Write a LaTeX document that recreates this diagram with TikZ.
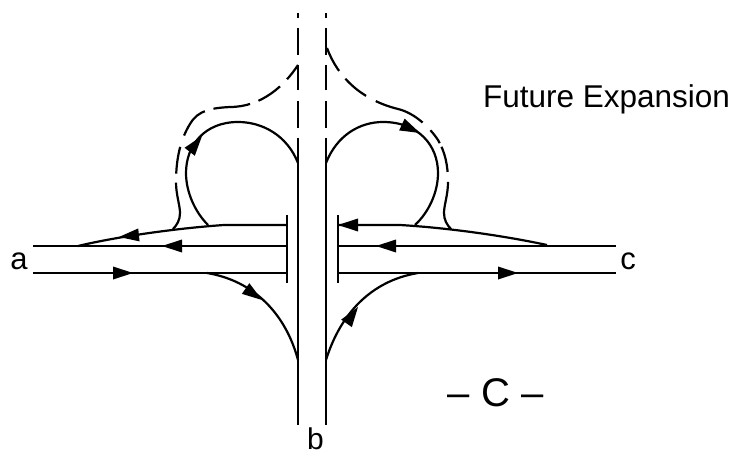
\documentclass[tikz,border=0pt]{standalone}
\usepackage{fontspec}
\setmainfont{Liberation Sans}
\newcommand{\headat}[3]{\fill[black,shift={(#1,#2)},rotate=#3] (0,0) -- (-20,-6.5) -- (-20,6.5) -- cycle;}
\tikzset{
  road/.style={line width=2.2pt,black,line join=round},
  lab/.style={inner sep=0pt,anchor=base},
  mainbroken/.style={road,dash pattern=on 5 off 10 on 27 off 10 on 25 off 11 on 27 off 10 on 300 off 0},
}
\begin{document}
\begin{tikzpicture}[x=1pt,y=-1pt]
\useasboundingbox (0,0) rectangle (735,454);
% main road b
\draw[mainbroken] (298,13) -- (298,425);
\draw[mainbroken] (326,13) -- (326,425);
% crossbars
\draw[road] (287,215) -- (287,283);
\draw[road] (338,215) -- (338,283);
% arm a
\draw[road] (33,246) -- (287,246);
\draw[road] (33,273) -- (287,273);
\draw[road] (287,225) -- (224,225) .. controls (180,228) and (120,236) .. (78,246);
\draw[road] (207,273) .. controls (255,281) and (286,315) .. (298,360);
% arm c
\draw[road] (338,246) -- (616,246);
\draw[road] (338,273) -- (616,273);
\draw[road] (338,225) -- (400,225) .. controls (450,228) and (505,236) .. (547,245);
\draw[road] (418,273) .. controls (370,281) and (340,315) .. (326,360);
% loops
\draw[road] (298,163) .. controls (287,135) and (262,122) .. (238,122)
  .. controls (205,122) and (186,145) .. (186,173)
  .. controls (186,192) and (195,212) .. (208,225);
\draw[road] (326,163) .. controls (337,135) and (360,122) .. (383,122)
  .. controls (418,122) and (438,145) .. (438,173)
  .. controls (438,192) and (429,212) .. (415,225);
% future expansion ramps
\draw[road,dash pattern=on 18 off 10 on 26 off 9 on 37 off 9 on 33 off 12 on 27 off 9 on 70 off 0]
  (298,65) .. controls (285,85) and (262,107) .. (230,107)
  .. controls (212,108) and (198,110) .. (190,124)
  .. controls (180,140) and (176,160) .. (176,182)
  .. controls (176,195) and (180,205) .. (180,213)
  .. controls (180,220) and (177,225) .. (173,229);
\draw[road,dash pattern=on 26 off 10 on 27 off 11 on 52 off 11 on 16 off 4 on 26 off 10 on 70 off 0]
  (327,48) .. controls (338,78) and (362,100) .. (398,109)
  .. controls (415,113) and (430,128) .. (438,140)
  .. controls (445,152) and (448,165) .. (448,182)
  .. controls (448,195) and (444,205) .. (444,213)
  .. controls (444,220) and (447,225) .. (451,229);
% arrowheads
\headat{133}{273}{0}
\headat{162}{246}{180}
\headat{119}{237}{186}
\headat{262}{300}{-35}
\headat{202}{136}{52}
\headat{420}{133}{-25}
\headat{338}{225}{180}
\headat{376}{246}{180}
\headat{518}{273}{0}
\headat{358}{307}{55}
% labels
\node[lab,font=\fontsize{31}{31}\selectfont] (la) at (19,269) {a};
\node[lab,font=\fontsize{31}{31}\selectfont] (lc) at (628,269) {c};
\node[lab,font=\fontsize{30}{30}\selectfont] (lb) at (315.5,449.5) {b};
\node[lab,font=\fontsize{31.5}{31.5}\selectfont] (fe) at (606.5,108) {Future Expansion};
\node[lab,font=\fontsize{40}{40}\selectfont] (cc) at (495.5,406) {– C –};
\end{tikzpicture}
\end{document}
